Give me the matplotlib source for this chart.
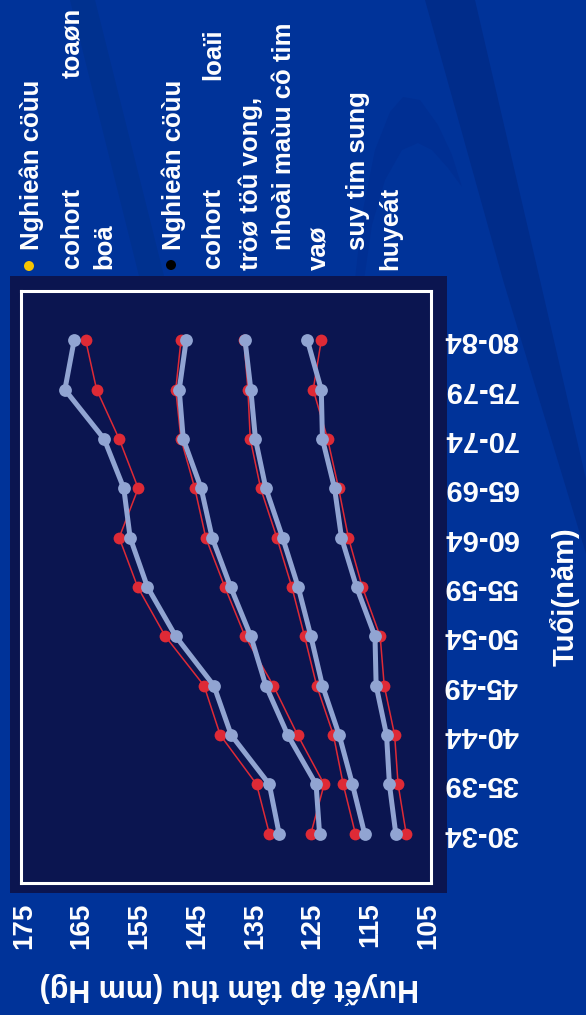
import matplotlib
matplotlib.use("Agg")
import matplotlib.pyplot as plt
from matplotlib.patches import Rectangle, Polygon, Ellipse

# ---------------- data ----------------
ages = ['30-34', '35-39', '40-44', '45-49', '50-54', '55-59',
        '60-64', '65-69', '70-74', '75-79', '80-84']
value_ticks = [175, 165, 155, 145, 135, 125, 115, 105]

blue_1 = [130.8, 132.5, 139.1, 142.1, 148.7, 153.6, 156.6, 157.7, 161.1, 167.9, 166.3]
red_1 = [132.5, 134.7, 141.0, 143.8, 150.5, 155.3, 158.5, 155.2, 158.5, 162.4, 164.3]
blue_2 = [123.8, 124.4, 129.3, 133.1, 135.7, 139.2, 142.4, 144.3, 147.4, 148.1, 146.9]
red_2 = [125.3, 123.0, 127.6, 131.8, 136.7, 140.2, 143.5, 145.4, 147.8, 148.7, 147.8]
blue_3 = [116.0, 118.1, 120.4, 123.3, 125.3, 127.5, 130.2, 133.1, 134.9, 135.7, 136.7]
red_3 = [117.6, 119.7, 121.4, 124.3, 126.4, 128.6, 131.2, 134.0, 135.8, 136.2, 136.9]
blue_4 = [110.6, 111.7, 112.2, 114.0, 114.2, 117.4, 120.0, 121.2, 123.3, 123.5, 125.9]
red_4 = [108.8, 110.2, 110.8, 112.6, 113.3, 116.4, 118.8, 120.5, 122.4, 124.9, 123.5]

value_label = 'Huyết áp tâm thu (mm Hg)'
age_label = 'Tuổi(năm)'

# ---------------- style ----------------
W, H = 586, 1015
BG = '#003399'
BAND = '#002C8A'
CRESCENT = '#002F93'
PANEL = '#0B1550'
BLUE = '#91A4D2'
RED = '#DE2A36'
FONT = ['Liberation Sans', 'DejaVu Sans']
plt.rcParams['font.family'] = FONT


def fx(x):
    return x / W


def fy(y):
    return 1 - y / H


def poly(pts, color, z=-3):
    p = Polygon([(fx(a), fy(b)) for a, b in pts], closed=True,
                transform=fig.transFigure, facecolor=color,
                edgecolor='none', zorder=z)
    fig.add_artist(p)


fig = plt.figure(figsize=(W / 100, H / 100), dpi=100)
fig.patch.set_facecolor(BG)

# decorative background swooshes
poly([(425, 0), (475, 0), (540, 280), (600, 540), (600, 600), (503, 280)], BAND)
poly([(355, 280), (362, 215), (375, 150), (390, 112), (403, 97), (420, 100),
      (438, 125), (452, 155), (462, 187), (448, 168), (432, 150), (418, 143),
      (402, 150), (385, 180), (372, 225), (364, 280)], CRESCENT)
poly([(70, 0), (95, 0), (165, 280), (140, 280)], '#00318F')

# dark panel behind the plot
panel = Rectangle((fx(10), fy(893)), fx(447) - fx(10), fy(276) - fy(893),
                  transform=fig.transFigure, facecolor=PANEL, edgecolor='none',
                  zorder=-1)
fig.add_artist(panel)

ax = fig.add_axes([fx(21), fy(883), fx(431) - fx(21), fy(291) - fy(883)])
ax.set_facecolor(PANEL)

ypos = list(range(len(ages)))
for blue, red in [(blue_1, red_1), (blue_2, red_2), (blue_3, red_3), (blue_4, red_4)]:
    ax.plot(red, ypos, color=RED, lw=1.1, marker='o', ms=8.5,
            markeredgewidth=0, zorder=2)
    ax.plot(blue, ypos, color=BLUE, lw=3.6, marker='o', ms=9.2,
            markeredgewidth=0, zorder=3)

ax.set_xlim(175.5, 104.5)
ax.set_ylim(-1, 11)

ax.set_xticks(value_ticks)
ax.set_xticklabels([str(v) for v in value_ticks], rotation=90, fontsize=20,
                   fontweight='bold', color='white', va='top', ha='center')
ax.tick_params(axis='x', length=0, pad=14)

ax.yaxis.tick_right()
ax.set_yticks(ypos)
ax.set_yticklabels(ages, rotation=180, fontsize=21, fontweight='bold',
                   color='white', ha='left', va='center')
ax.tick_params(axis='y', length=0, pad=9)

for s in ax.spines.values():
    s.set_color('white')
    s.set_linewidth(2.2)

# axis titles
fig.text(fx(229), fy(988), value_label, rotation=180, fontsize=22,
         fontweight='bold', color='white', ha='center', va='center')
fig.text(fx(565), fy(597), age_label, rotation=90, fontsize=21,
         fontweight='bold', color='white', ha='center', va='center')

# bullet text (rotated)
fig.add_artist(Ellipse((fx(29), fy(266)), 10 / W, 10 / H,
                       transform=fig.transFigure, facecolor='#F5C400',
                       edgecolor='none'))
fig.add_artist(Ellipse((fx(171), fy(265)), 10 / W, 10 / H,
                       transform=fig.transFigure, facecolor='#000000',
                       edgecolor='none'))

lines = [
    (32, 250, 'bottom', 'Nghieân cöùu'),
    (72, 268, 'bottom', 'cohort'),
    (72, 8, 'top', 'toaøn'),
    (104, 269, 'bottom', 'boä'),
    (174, 250, 'bottom', 'Nghieân cöùu'),
    (213, 268, 'bottom', 'cohort'),
    (213, 28, 'top', 'loaïi'),
    (251, 270, 'bottom', 'tröø töû vong,'),
    (284, 250, 'bottom', 'nhoài maùu cô tim'),
    (319, 270, 'bottom', 'vaø'),
    (358, 250, 'bottom', 'suy tim sung'),
    (390, 270, 'bottom', 'huyeát'),
]
for x, y, va, s in lines:
    fig.text(fx(x), fy(y), s, rotation=90, fontsize=18.5, fontweight='bold',
             color='white', ha='center', va=va)

fig.savefig('out.png', dpi=100, facecolor=fig.get_facecolor())
